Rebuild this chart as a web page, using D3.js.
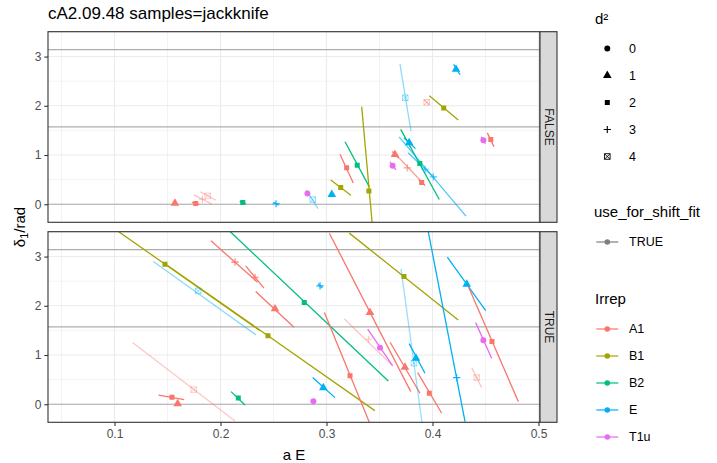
<!DOCTYPE html>
<html>
<head>
<meta charset="utf-8">
<script src="https://cdn.jsdelivr.net/npm/d3@7"></script>
<style>
  body { margin: 0; background: #fff; }
  text { font-family: "Liberation Sans", Arial, Helvetica, sans-serif; }
</style>
</head>
<body>
<script>
// ---- data ----
const irrepLevels = ["A1", "B1", "B2", "E", "T1u"]
const irrepColors = ["#F8766D", "#A3A500", "#00BF7D", "#00B0F6", "#E76BF3"]
const d2Levels = [0, 1, 2, 3, 4]
const facetLevels = ["FALSE", "TRUE"]
const xTicks = [0.1, 0.2, 0.3, 0.4, 0.5]
const yTicks = [0, 1, 2, 3]
const hLines = [0, Math.PI / 2, Math.PI]

// one entry per point (facet, irrep, d^2, aE, delta, line ends, weight)
const facet = ["FALSE","FALSE","FALSE","FALSE","FALSE","FALSE","FALSE","FALSE","FALSE","FALSE",
  "FALSE","FALSE","FALSE","FALSE","FALSE","FALSE","FALSE","FALSE","FALSE","FALSE",
  "FALSE","FALSE","FALSE","FALSE","FALSE","FALSE","FALSE",
  "TRUE","TRUE","TRUE","TRUE","TRUE","TRUE","TRUE","TRUE","TRUE","TRUE",
  "TRUE","TRUE","TRUE","TRUE","TRUE","TRUE","TRUE","TRUE","TRUE","TRUE",
  "TRUE","TRUE","TRUE","TRUE","TRUE","TRUE","TRUE","TRUE"]
const irrep = ["A1","A1","A1","A1","B2","E","T1u","E","E","B1",
  "A1","B2","B1","T1u","A1","A1","A1","E","B2","E",
  "E","E","A1","B1","E","T1u","A1",
  "B1","B1","E","A1","A1","A1","B2","A1","A1","A1",
  "B2","E","A1","A1","A1","A1","T1u","A1","B1","E",
  "E","E","E","A1","T1u","A1","T1u","E"]
const d2 = [1,2,3,4,2,3,0,4,1,2,
  2,2,2,0,1,3,2,1,2,3,
  3,4,4,2,1,0,2,
  2,2,4,3,3,1,2,4,2,1,
  2,3,1,1,2,3,0,2,2,4,
  1,3,1,2,0,4,0,1]
const aE = [0.157,0.1766,0.183,0.188,0.221,0.2524,0.282,0.287,0.305,0.3134,
  0.319,0.329,0.340,0.3624,0.3646,0.3762,0.3898,0.378,0.388,0.393,
  0.4008,0.3743,0.3945,0.4106,0.4222,0.448,0.455,
  0.1476,0.2448,0.179,0.2137,0.2325,0.2514,0.279,0.1747,0.1542,0.1596,
  0.2168,0.2939,0.341,0.374,0.3222,0.3398,0.3505,0.397,0.3731,0.3825,
  0.3844,0.4228,0.4323,0.4561,0.448,0.4417,0.2876,0.297]
const delta = [0.02,0.015,0.10,0.17,0.035,0.01,0.218,0.095,0.197,0.34,
  0.74,0.79,0.27,0.78,1.01,0.739,0.44,1.25,0.828,0.71,
  0.556,2.163,2.07,1.953,2.74,1.302,1.316,
  2.845,1.39,2.303,2.886,2.58,1.937,2.065,0.297,0.142,0.01,
  0.128,2.404,1.862,0.752,0.58,1.32,1.15,0.223,2.594,0.833,
  0.935,0.541,2.439,1.272,1.30,0.541,0.06,0.337]
const lineX0 = [0.155,0.173,0.175,0.181,0.218,0.250,0.281,0.281,0.304,0.304,
  0.3127,0.3175,0.3332,0.3599,0.362,0.363,0.387,0.373,0.370,0.377,
  0.3685,0.3693,0.392,0.397,0.420,0.446,0.4517,
  0.1036,0.147,0.1366,0.191,0.2238,0.2332,0.209,0.117,0.1415,0.158,
  0.210,0.292,0.3027,0.360,0.298,0.3168,0.3389,0.386,0.3215,0.3703,
  0.378,0.396,0.414,0.4338,0.4407,0.437,0.287,0.287]
const lineY0 = [0.04,0.04,0.19,0.25,0.06,0.04,0.24,0.285,0.21,0.494,
  1.017,1.268,1.98,0.86,1.07,1.064,0.50,1.35,1.52,1.045,
  1.37,2.848,2.12,2.203,2.84,1.37,1.45,
  3.51,2.865,2.898,3.32,2.81,2.289,3.508,1.252,0.183,0.02,
  0.256,2.45,3.475,1.26,1.862,1.734,1.524,0.642,3.476,2.75,
  1.232,3.508,2.988,2.39,1.658,0.744,0.07,0.541]
const lineX1 = [0.159,0.180,0.192,0.196,0.224,0.255,0.283,0.292,0.306,0.323,
  0.3253,0.3404,0.343,0.3655,0.368,0.3913,0.393,0.384,0.4064,0.4023,
  0.4316,0.3797,0.397,0.4243,0.426,0.450,0.458,
  0.237,0.3456,0.2335,0.235,0.241,0.2693,0.3583,0.2137,0.1657,0.161,
  0.2231,0.296,0.3795,0.3882,0.3404,0.3615,0.3624,0.4087,0.4243,0.3904,
  0.3929,0.4307,0.4502,0.481,0.4558,0.4464,0.288,0.308]
const lineY1 = [0.0,-0.01,0.0,0.08,0.01,-0.02,0.20,-0.088,0.18,0.183,
  0.433,0.352,-0.36,0.70,0.94,0.42,0.38,1.13,0.096,0.523,
  -0.24,1.485,2.02,1.709,2.63,1.23,1.17,
  1.497,-0.13,1.409,2.478,2.358,1.565,0.473,-0.34,0.093,0.0,
  -0.014,2.36,0.256,0.224,-0.366,0.8,0.778,-0.183,1.713,-0.42,
  0.63,-0.354,1.902,0.053,0.935,0.337,0.05,0.134]
const weight = [1,1,0.45,0.4,1,1,1,0.45,1,1,
  1,1,1,1,1,0.7,1,1,1,0.7,
  0.7,0.45,0.45,1,1,1,1,
  1,1,0.45,1,1,1,1,0.4,1,1,
  1,1,1,1,1,0.45,1,1,1,0.4,
  1,1,1,1,1,0.4,1,1]

const rows = aE.map((x, i) => ({
  facet: facet[i], irrep: irrep[i], d2: d2[i], x: x, y: delta[i],
  x0: lineX0[i], y0: lineY0[i], x1: lineX1[i], y1: lineY1[i], w: weight[i]
}))

// ---- layout ----
const width = 717, height = 463
const panelX = 48, panelW = 492
const panelTops = [31.7, 231.7], panelH = 190.6
const stripW = 17

const svg = d3.select("body").append("svg")
  .attr("width", width).attr("height", height)

const xScale = d3.scaleLinear().domain([0.03726, 0.50142]).range([panelX, panelX + panelW])
const yScale = d3.scaleLinear().domain([-0.367, 3.505]).range([panelH, 0])
const color = d3.scaleOrdinal().domain(irrepLevels).range(irrepColors)
const alpha = d3.scaleLinear().domain([0, 1]).range([0, 1])

function shapePath(k) {
  if (k === 0) return d3.symbol(d3.symbolCircle, 28)()
  if (k === 1) return d3.symbol(d3.symbolTriangle, 32)()
  if (k === 2) return d3.symbol(d3.symbolSquare, 25)()
  if (k === 3) return "M-3.6,0H3.6M0,-3.6V3.6"
  return "M-2.8,-2.8H2.8V2.8H-2.8ZM-2.8,-2.8L2.8,2.8M2.8,-2.8L-2.8,2.8"
}
function drawShape(sel, k, col) {
  const p = sel.append("path").attr("d", shapePath(k))
  if (k >= 3) p.attr("fill", "none").attr("stroke", col).attr("stroke-width", k === 3 ? 1.1 : 0.9)
  else p.attr("fill", col)
  return p
}

// title
svg.append("text").attr("x", panelX).attr("y", 19)
  .attr("font-size", 17).attr("fill", "#000")
  .text("cA2.09.48 samples=jackknife")

facetLevels.forEach((lev, pi) => {
  const top = panelTops[pi]
  const g = svg.append("g").attr("transform", `translate(0,${top})`)

  g.append("rect").attr("x", panelX).attr("y", 0).attr("width", panelW).attr("height", panelH)
    .attr("fill", "#fff")

  // grid
  const xMinor = d3.range(0.05, 0.5, 0.1)
  const yMinor = [0.5, 1.5, 2.5, 3.5]
  g.selectAll(".xminor").data(xMinor).enter().append("line")
    .attr("x1", d => xScale(d)).attr("x2", d => xScale(d)).attr("y1", 0).attr("y2", panelH)
    .attr("stroke", "#EBEBEB").attr("stroke-width", 0.6)
  g.selectAll(".yminor").data(yMinor).enter().append("line")
    .attr("x1", panelX).attr("x2", panelX + panelW).attr("y1", d => yScale(d)).attr("y2", d => yScale(d))
    .attr("stroke", "#EBEBEB").attr("stroke-width", 0.6)
  g.selectAll(".xmajor").data(xTicks).enter().append("line")
    .attr("x1", d => xScale(d)).attr("x2", d => xScale(d)).attr("y1", 0).attr("y2", panelH)
    .attr("stroke", "#EBEBEB").attr("stroke-width", 1.1)
  g.selectAll(".ymajor").data(yTicks).enter().append("line")
    .attr("x1", panelX).attr("x2", panelX + panelW).attr("y1", d => yScale(d)).attr("y2", d => yScale(d))
    .attr("stroke", "#EBEBEB").attr("stroke-width", 1.1)

  // reference lines
  g.selectAll(".hl").data(hLines).enter().append("line")
    .attr("x1", panelX).attr("x2", panelX + panelW).attr("y1", d => yScale(d)).attr("y2", d => yScale(d))
    .attr("stroke", "#ADADAD").attr("stroke-width", 1.2)

  const clipId = "clip" + pi
  g.append("clipPath").attr("id", clipId).append("rect")
    .attr("x", panelX).attr("y", 0).attr("width", panelW).attr("height", panelH)

  const data = rows.filter(r => r.facet === lev)
  const marks = g.append("g").attr("clip-path", `url(#${clipId})`)

  marks.selectAll(".seg").data(data).enter().append("line")
    .attr("x1", d => xScale(d.x0)).attr("y1", d => yScale(d.y0))
    .attr("x2", d => xScale(d.x1)).attr("y2", d => yScale(d.y1))
    .attr("stroke", d => color(d.irrep)).attr("stroke-width", 1.3)
    .attr("stroke-opacity", d => alpha(d.w))

  data.forEach(d => {
    const pg = marks.append("g")
      .attr("transform", `translate(${xScale(d.x)},${yScale(d.y)})`)
      .attr("opacity", alpha(d.w))
    drawShape(pg, d.d2, color(d.irrep))
  })

  // border
  g.append("rect").attr("x", panelX).attr("y", 0).attr("width", panelW).attr("height", panelH)
    .attr("fill", "none").attr("stroke", "#333333").attr("stroke-width", 1.1)

  // strip
  g.append("rect").attr("x", panelX + panelW).attr("y", 0).attr("width", stripW).attr("height", panelH)
    .attr("fill", "#D9D9D9").attr("stroke", "#333333").attr("stroke-width", 1.1)
  g.append("text")
    .attr("transform", `translate(${panelX + panelW + stripW / 2},${panelH / 2}) rotate(90)`)
    .attr("text-anchor", "middle").attr("dominant-baseline", "central")
    .attr("font-size", 12).attr("fill", "#1A1A1A").text(lev)

  // y axis
  const yAxis = d3.axisLeft(yScale).tickValues(yTicks).tickSize(3.7).tickPadding(3).tickFormat(d3.format("d"))
  const ya = g.append("g").attr("transform", `translate(${panelX},0)`).call(yAxis)
  ya.select(".domain").remove()
  ya.selectAll("line").attr("stroke", "#333333").attr("stroke-width", 1.1)
  ya.selectAll("text").attr("font-size", 12).attr("fill", "#4D4D4D")
    .style("font-family", '"Liberation Sans", Arial, sans-serif')

  if (pi === 1) {
    const xAxis = d3.axisBottom(xScale).tickValues(xTicks).tickSize(3.7).tickPadding(3).tickFormat(d3.format(".1f"))
    const xa = g.append("g").attr("transform", `translate(0,${panelH})`).call(xAxis)
    xa.select(".domain").remove()
    xa.selectAll("line").attr("stroke", "#333333").attr("stroke-width", 1.1)
    xa.selectAll("text").attr("font-size", 12).attr("fill", "#4D4D4D")
      .style("font-family", '"Liberation Sans", Arial, sans-serif')
  }
})

// axis titles
svg.append("text").attr("x", panelX + panelW / 2).attr("y", 460)
  .attr("text-anchor", "middle").attr("font-size", 15).text("a E")

const yt = svg.append("text")
  .attr("transform", `translate(25,${(panelTops[0] + panelTops[1] + panelH) / 2}) rotate(-90)`)
  .attr("text-anchor", "middle").attr("font-size", 15)
yt.append("tspan").text("δ")
yt.append("tspan").attr("dy", 3).attr("font-size", 11).text("1")
yt.append("tspan").attr("dy", -3).text("/rad")

// ---- legends ----
const legX = 595, keyX = 607.3, labX = 629, step = 27

// d^2 shapes
svg.append("text").attr("x", legX).attr("y", 23.5).attr("font-size", 15).text("d²")
d2Levels.forEach((k, i) => {
  const y = 48.5 + i * step
  const kg = svg.append("g").attr("transform", `translate(${keyX},${y})`)
  drawShape(kg, k, "#000")
  svg.append("text").attr("x", labX).attr("y", y).attr("dominant-baseline", "central")
    .attr("font-size", 12.5).text(k)
})

// use_for_shift_fit
svg.append("text").attr("x", legX - 1).attr("y", 217).attr("font-size", 15).text("use_for_shift_fit")
svg.append("line").attr("x1", keyX - 11).attr("x2", keyX + 11).attr("y1", 242).attr("y2", 242)
  .attr("stroke", "#7F7F7F").attr("stroke-width", 1.2)
svg.append("circle").attr("cx", keyX).attr("cy", 242).attr("r", 2.8).attr("fill", "#7F7F7F")
svg.append("text").attr("x", labX).attr("y", 242).attr("dominant-baseline", "central")
  .attr("font-size", 12.5).text("TRUE")

// Irrep colours
svg.append("text").attr("x", legX).attr("y", 304).attr("font-size", 15).text("Irrep")
irrepLevels.forEach((lev, i) => {
  const y = 329 + i * step
  svg.append("line").attr("x1", keyX - 11).attr("x2", keyX + 11).attr("y1", y).attr("y2", y)
    .attr("stroke", color(lev)).attr("stroke-width", 1.2)
  svg.append("circle").attr("cx", keyX).attr("cy", y).attr("r", 2.8).attr("fill", color(lev))
  svg.append("text").attr("x", labX).attr("y", y).attr("dominant-baseline", "central")
    .attr("font-size", 12.5).text(lev)
})
</script>
</body>
</html>
